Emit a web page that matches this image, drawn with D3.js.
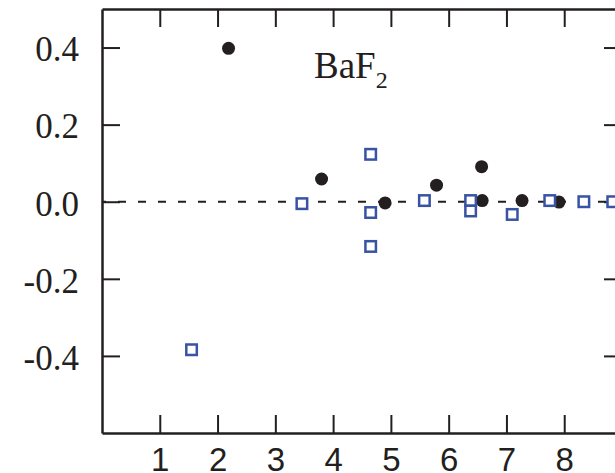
<!DOCTYPE html>
<html>
<head>
<meta charset="utf-8">
<script src="https://cdn.jsdelivr.net/npm/d3@7"></script>
<style>
  body { margin: 0; background: #fff; }
  .axis path, .axis line { stroke: #231f20; }
  .axis path { stroke-width: 2.5; }
  .axis line { stroke-width: 2; }
  .y-label text { font-family: "Liberation Serif", "Times New Roman", serif; font-size: 35px; fill: #231f20; }
  .x-label text { font-family: "Liberation Sans", Arial, sans-serif; font-size: 33px; fill: #231f20; }
</style>
</head>
<body>
<svg id="chart" width="615" height="473"></svg>
<script>
// black filled circles
var circleX = [2.19, 3.80, 4.90, 5.79, 6.57, 6.58, 7.27, 7.91];
var circleY = [0.398, 0.059, -0.003, 0.043, 0.091, 0.003, 0.003, -0.001];
// blue open squares
var squareX = [1.55, 3.46, 4.65, 4.65, 4.65, 5.58, 6.38, 6.38, 7.10, 7.75, 8.34, 8.84];
var squareY = [-0.384, -0.005, 0.123, -0.028, -0.116, 0.003, 0.003, -0.024, -0.033, 0.003, 0.0, 0.0];
// ticks
var xTicks = [1, 2, 3, 4, 5, 6, 7, 8];
var yTicks = [-0.4, -0.2, 0.0, 0.2, 0.4];

var svg = d3.select("#chart");
var margin = { top: 9, left: 102 },
  width = 520,
  height = 424;
var g = svg.append("g")
  .attr("transform", "translate(" + margin.left + "," + margin.top + ")");

var x = d3.scaleLinear().domain([0, 9]).range([0, width]);
var y = d3.scaleLinear().domain([-0.6, 0.5]).range([height, 0]);

var fmt = function (d) { return d3.format(".1f")(d).replace("\u2212", "-"); };

// zero reference line
g.append("line")
  .attr("x1", x(0)).attr("x2", x(9))
  .attr("y1", y(0)).attr("y2", y(0))
  .style("stroke", "#231f20")
  .style("stroke-width", 2)
  .style("stroke-dasharray", "8,12")
  .style("stroke-dashoffset", 4);

// axes, ticks pointing inward
g.append("g")
  .attr("class", "axis x-label")
  .attr("transform", "translate(0," + height + ")")
  .call(d3.axisBottom(x).tickValues(xTicks).tickSizeInner(-18).tickSizeOuter(0).tickPadding(15).tickFormat(d3.format("d")));

g.append("g")
  .attr("class", "axis")
  .call(d3.axisTop(x).tickValues(xTicks).tickSizeInner(-18).tickSizeOuter(0).tickFormat(""));

g.append("g")
  .attr("class", "axis y-label")
  .call(d3.axisLeft(y).tickValues(yTicks).tickSizeInner(-18).tickSizeOuter(0).tickPadding(23).tickFormat(fmt));

g.append("g")
  .attr("class", "axis")
  .attr("transform", "translate(" + width + ",0)")
  .call(d3.axisRight(y).tickValues(yTicks).tickSizeInner(-18).tickSizeOuter(0).tickFormat(""));

g.selectAll(".domain").style("stroke-width", 2.5);
g.selectAll(".y-label .tick text").attr("dy", "0.38em");

// circles
g.selectAll("circle.pt")
  .data(circleX)
  .enter()
  .append("circle")
  .attr("class", "pt")
  .attr("cx", function (d) { return x(d); })
  .attr("cy", function (d, i) { return y(circleY[i]); })
  .attr("r", 6.5)
  .style("fill", "#231f20");

// squares
var s = 10.5;
g.selectAll("rect.pt")
  .data(squareX)
  .enter()
  .append("rect")
  .attr("class", "pt")
  .attr("x", function (d) { return x(d) - s / 2; })
  .attr("y", function (d, i) { return y(squareY[i]) - s / 2; })
  .attr("width", s)
  .attr("height", s)
  .style("fill", "#fff")
  .style("stroke", "#3953a4")
  .style("stroke-width", 2.5);

// label
var lbl = svg.append("text")
  .attr("x", 314)
  .attr("y", 78)
  .style("font-family", "'Liberation Serif', 'Times New Roman', serif")
  .style("font-size", "37px")
  .style("fill", "#231f20");
lbl.append("tspan").text("BaF");
lbl.append("tspan").attr("dy", 10).style("font-size", "24px").text("2");
</script>
</body>
</html>
